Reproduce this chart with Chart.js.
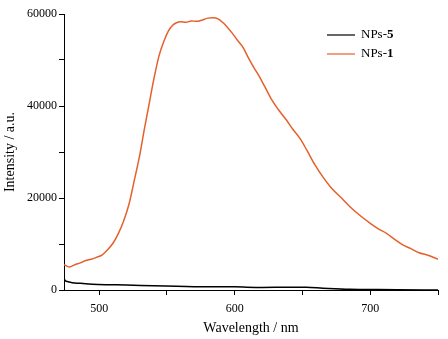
<!DOCTYPE html>
<html lang="en">
<head>
    <meta charset="UTF-8">
    <title>Emission spectra</title>
    <script src="https://cdn.jsdelivr.net/npm/chart.js"></script>
    <style>
        body { margin: 0; background: #fff; }
        #wrap { width: 448px; height: 339px; }
    </style>
</head>
<body>
<div id="wrap"><canvas id="spectrum" width="448" height="339"></canvas></div>
<script>
    // NPs-1 (orange) readings
    const wl1 = [474, 476, 478, 482, 486, 490, 494, 498, 502, 506, 510, 514, 518, 522, 526, 530, 533, 536.5, 540, 544, 548, 551, 554, 557, 560, 564, 568, 572, 576, 580, 584, 588, 591, 594, 598, 602, 606, 610, 614, 618, 622, 627, 632, 638, 643, 648, 653, 659, 665, 671, 678, 685, 692, 700, 706, 712, 718, 724, 730, 736, 742, 750];
    const npsOne = [5500, 5200, 5000, 5500, 5900, 6400, 6700, 7100, 7600, 8700, 10100, 12200, 15000, 18700, 24000, 29500, 34500, 39900, 45400, 50800, 54300, 56300, 57500, 58100, 58300, 58200, 58500, 58400, 58700, 59100, 59200, 58900, 58200, 57300, 55900, 54300, 52800, 50500, 48400, 46500, 44300, 41500, 39300, 37000, 34900, 33000, 30500, 27300, 24600, 22300, 20200, 18100, 16300, 14500, 13300, 12300, 11000, 9800, 9000, 8100, 7600, 6700];

    // NPs-5 (black) readings
    const wl5 = [474, 475, 477, 480, 486, 495, 505, 520, 540, 570, 600, 620, 640, 653, 665, 685, 700, 720, 750];
    const npsFive = [2500, 2000, 1800, 1600, 1450, 1250, 1150, 1090, 900, 720, 680, 560, 600, 580, 400, 150, 100, 40, 0];

    const xTicks = [500, 550, 600, 650, 700, 750];
    const xLabels = [500, 600, 700];
    const yLabels = [0, 20000, 40000, 60000];

    const serif = "'Liberation Serif', 'Times New Roman', serif";
    const orange = '#e5602b';

    function toPoints(xs, ys) {
        return xs.map((x, i) => ({ x: x, y: ys[i] }));
    }

    // legend sits inside the plot, with a bold digit in each label
    const legendPlugin = {
        id: 'innerLegend',
        afterDraw(chart) {
            const ctx = chart.ctx;
            const items = [
                { name: 'NPs-', num: '5', color: '#000', y: 35 },
                { name: 'NPs-', num: '1', color: orange, y: 54 }
            ];
            ctx.save();
            ctx.textBaseline = 'middle';
            items.forEach(it => {
                ctx.strokeStyle = it.color;
                ctx.lineWidth = 1.2;
                ctx.beginPath();
                ctx.moveTo(327, it.y);
                ctx.lineTo(355, it.y);
                ctx.stroke();
                ctx.fillStyle = '#000';
                ctx.font = '13px ' + serif;
                ctx.fillText(it.name, 361, it.y);
                const w = ctx.measureText(it.name).width;
                ctx.font = 'bold 13px ' + serif;
                ctx.fillText(it.num, 361 + w, it.y);
            });
            ctx.restore();
        }
    };

    new Chart(document.getElementById('spectrum'), {
        type: 'line',
        data: {
            datasets: [
                {
                    label: 'NPs-5',
                    data: toPoints(wl5, npsFive),
                    borderColor: '#000',
                    borderWidth: 1.5,
                    pointRadius: 0,
                    cubicInterpolationMode: 'monotone'
                },
                {
                    label: 'NPs-1',
                    data: toPoints(wl1, npsOne),
                    borderColor: orange,
                    borderWidth: 1.5,
                    pointRadius: 0,
                    cubicInterpolationMode: 'monotone'
                }
            ]
        },
        options: {
            responsive: false,
            animation: false,
            layout: { padding: { top: 14, right: 10, left: 0, bottom: 0 } },
            plugins: {
                legend: { display: false },
                tooltip: { enabled: false }
            },
            scales: {
                x: {
                    type: 'linear',
                    min: 474,
                    max: 750,
                    afterBuildTicks: s => { s.ticks = xTicks.map(v => ({ value: v })); },
                    afterFit: s => { s.height = 49; },
                    grid: { drawOnChartArea: false, tickLength: 5, tickColor: '#000' },
                    border: { color: '#000', width: 1 },
                    ticks: {
                        color: '#000',
                        padding: 7,
                        maxRotation: 0,
                        font: { family: serif, size: 12 },
                        callback: v => xLabels.includes(v) ? String(v) : ''
                    },
                    title: {
                        display: true,
                        text: 'Wavelength / nm',
                        color: '#000',
                        font: { family: serif, size: 14 },
                        padding: { top: 0, bottom: 2 }
                    }
                },
                y: {
                    min: 0,
                    max: 60000,
                    afterFit: s => { s.width = 64; },
                    grid: { drawOnChartArea: false, tickLength: 5, tickColor: '#000' },
                    border: { color: '#000', width: 1 },
                    ticks: {
                        stepSize: 10000,
                        color: '#000',
                        padding: 2,
                        font: { family: serif, size: 12 },
                        callback: v => yLabels.includes(v) ? String(v) : ''
                    },
                    title: {
                        display: true,
                        text: 'Intensity / a.u.',
                        color: '#000',
                        font: { family: serif, size: 14 },
                        padding: { top: 2, bottom: 0 }
                    }
                }
            }
        },
        plugins: [legendPlugin]
    });
</script>
</body>
</html>
